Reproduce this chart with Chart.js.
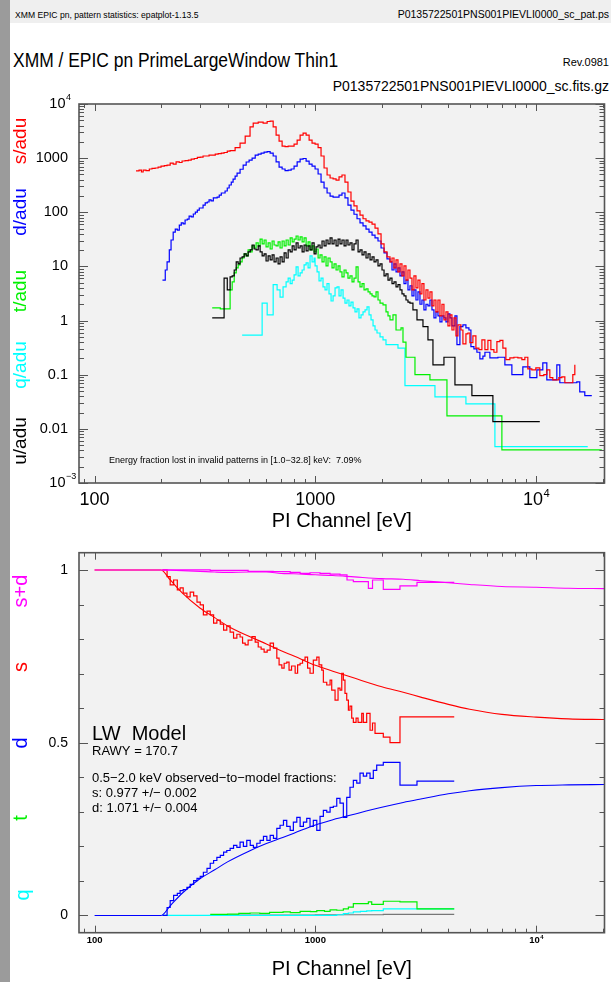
<!DOCTYPE html>
<html>
<head>
<meta charset="utf-8">
<title>epatplot</title>
<script src="https://cdn.jsdelivr.net/npm/chart.js@4.4.1/dist/chart.umd.min.js"></script>
<style>
  html, body { margin: 0; padding: 0; }
  body { width: 611px; height: 982px; position: relative; overflow: hidden; background: #fff;
         font-family: "Liberation Sans", Arial, Helvetica, sans-serif; color: #000; }
  .strip { position: absolute; left: 0; top: 0; width: 10px; height: 982px; background: #9b9b9b; }
  .band { position: absolute; left: 10px; top: 0; width: 601px; height: 23px; background: #efefef; }
  .t { position: absolute; line-height: 1; white-space: nowrap; }
  canvas { position: absolute; left: 0; top: 0; }
</style>
</head>
<body>
<div class="strip"></div>
<div class="band"></div>
<div class="t" style="left:15px; top:10.7px; font-size:8.6px;">XMM EPIC pn, pattern statistics: epatplot-1.13.5</div>
<div class="t" style="right:2px; top:9.1px; font-size:10.5px;">P0135722501PNS001PIEVLI0000_sc_pat.ps</div>
<div class="t" style="left:13px; top:48.9px; font-size:21px; transform:scaleX(0.83); transform-origin:0 0;">XMM / EPIC pn PrimeLargeWindow Thin1</div>
<div class="t" style="right:2px; top:56.7px; font-size:11px;">Rev.0981</div>
<div class="t" style="right:2px; top:79.1px; font-size:14px;">P0135722501PNS001PIEVLI0000_sc.fits.gz</div>
<canvas id="spec" width="611" height="982"></canvas>
<canvas id="frac" width="611" height="982"></canvas>
<script>
const FONT = '"Liberation Sans", Arial, Helvetica, sans-serif';

// ---- spectra per pattern type (counts / adu) vs PI channel [eV] ----
const sE = [154,159,163,166,171,177,182,188,194,200,207,213,220,227,234,242,249,257,266,274,
  283,292,301,310,320,330,341,352,363,375,386,399,411,433,456,481,506,523,551,580,
  605,624,644,664,685,707,729,753,777,801,827,853,880,908,937,966,997,1029,1061,1095,
  1130,1166,1203,1241,1280,1320,1362,1405,1450,1496,1544,1593,1644,1696,1750,1806,1863,1922,1984,2047,
  2111,2178,2224,2271,2319,2367,2417,2468,2520,2573,2627,2682,2739,2796,2855,2915,2977,3039,3103,3169,
  3236,3304,3374,3445,3517,3592,3667,3745,3823,3904,3986,4070,4156,4243,4333,4424,4564,4660,4808,4909,
  5012,5171,5336,5505,5680,5861,6047,6237,6437,6642,6852,7070,7294,7603,7930,8266,8617,8890,9170,9561,
  9968,10390,10835,11180,11535,11900,12280,12670,13070,13490,13920,14360,14660,14970];
const sAdu = [580,600,555,603,590,630,645,657,685,715,730,746,812,778,850,830,885,903,922,963,
  985,1030,1048,1095,1095,1141,1141,1190,1215,1242,1270,1352,1380,1570,1900,2560,3780,4440,4640,4440,
  4750,4840,3780,2670,2060,1670,1630,1670,1670,1820,2160,2670,2910,2670,2160,1900,1820,1570,1095,657,
  488,430,413,394,450,488,360,237,161,131,106,89,76,69.5,66,60.5,51,40,26,18.5,
  15,12.1,14.3,9.4,13.2,7.9,11.1,6.7,10.2,5.6,8.6,6.1,3.7,6.7,4.0,5.6,3.1,4.8,2.4,3.7,
  2.6,3.4,1.87,2.4,1.45,2.4,1.22,2.0,1.03,1.45,0.80,1.27,0.67,1.12,0.52,0.83,0.67,0.37,0.57,0.59,
  0.39,0.52,0.31,0.29,0.44,0.29,0.43,0.29,0.26,0.41,0.43,0.31,0.19,0.205,0.21,0.205,0.19,0.21,0.128,0.123,
  0.134,0.096,0.10,0.123,0.088,0.080,0.08,0.088,0.091,0.071,0.071,0.071,0.10,0.152];

const dE = [203,209,213,218,222,227,232,237,242,247,252,257,263,268,274,280,286,292,298,304,
  310,317,324,330,337,345,352,359,367,375,382,390,399,407,416,424,433,442,456,471,
  486,501,517,534,551,568,586,605,624,644,664,685,707,729,753,777,801,827,853,880,
  908,937,966,997,1029,1061,1095,1130,1166,1203,1241,1280,1320,1362,1405,1450,1496,1544,1593,1644,
  1696,1750,1806,1863,1922,1984,2047,2111,2178,2224,2271,2319,2367,2417,2468,2520,2573,2627,2682,2739,
  2796,2855,2915,2977,3039,3103,3169,3236,3304,3374,3445,3517,3592,3667,3745,3823,3904,3986,4070,4156,
  4288,4378,4516,4660,4808,4961,5065,5226,5392,5561,5740,5861,6173,6712,7218,7764,8706,9365,10075,10720,
  11180,12410,12800,15280,15760,16610,17870];
const dAdu = [5.6,8.6,12.1,20.2,30.8,43,49,47,58,63.5,61,72,75,85,82,93,101,110,120,120,
  136,149,155,169,162,184,184,191,208,227,227,247,281,319,361,410,467,531,624,746,
  849,922,1004,1141,1190,1242,1296,1325,1242,1095,850,685,630,590,603,630,715,850,963,985,
  880,778,715,630,510,360,281,227,199,191,191,208,227,184,136,110,92,76,63.5,56,
  49,43,38,33.6,29.5,21.9,17.8,13.8,12.1,8.6,11.1,7.9,9.4,6.7,7.9,4.8,5.6,3.7,4.4,2.85,
  3.7,2.4,3.4,2.0,2.4,1.57,2.0,1.87,2.4,1.57,1.12,1.45,1.22,0.95,1.22,1.12,0.95,1.33,1.12,0.80,
  1.22,0.36,0.77,0.83,0.73,0.67,0.33,0.30,0.26,0.196,0.22,0.26,0.205,0.21,0.152,0.10,0.14,0.088,0.123,0.166,
  0.080,0.152,0.071,0.074,0.048,0.041,0.041];

const tE = [341,371,411,420,429,438,447,456,466,476,486,496,507,517,528,539,551,562,574,586,
  598,611,624,637,650,664,678,692,707,722,737,753,769,785,801,818,835,853,871,889,
  908,927,946,966,987,1007,1029,1050,1072,1095,1118,1141,1166,1190,1215,1241,1267,1293,1320,1349,
  1377,1405,1435,1466,1496,1529,1561,1593,1627,1661,1696,1732,1769,1806,1844,1883,1922,1963,2025,2089,
  2133,2178,2247,2319,2443,2494,2573,2826,3304,3945,6996,19830];
const tAdu = [1.72,1.65,3.7,5.2,7.6,9.4,10.7,12.1,14.3,17,15.6,20.2,18.5,23.9,21.9,27.2,23.9,32,26,30.8,
  22.9,27.2,21,29.5,24.9,23.9,28.3,21.9,29.5,23.9,30.8,24.9,33.6,28.3,32,36.5,30.8,35,28.3,33.6,
  23.9,28.3,20.2,23.9,18.5,21,14.3,16.3,12.1,15,10.2,14.3,12.1,9.4,11.1,8.6,10.2,7.9,6.4,8.6,
  7.6,6.1,6.7,5.2,6.1,9.8,5.2,4.2,4.8,3.7,3.85,3.4,3.1,2.85,2.75,3.4,2.4,2.1,1.95,1.45,
  1.22,1.03,1.27,0.67,0.73,0.40,0.21,0.10,0.080,0.0173,0.0041,0.0041];

const qE = [466,574,605,644,671,692,714,737,753,769,785,801,818,835,853,871,889,908,927,946,
  966,987,997,1018,1039,1061,1083,1106,1129,1153,1178,1203,1228,1254,1280,1307,1335,1362,1391,1420,
  1450,1481,1512,1544,1576,1610,1644,1679,1714,1750,1787,1825,1863,1902,1963,2025,2089,2367,2546,3481,
  4808,6505,17130];
const qAdu = [0.54,2.1,1.27,4.6,3.7,2.7,4.2,5.2,6.1,4.8,5.6,7.0,9.8,6.7,7.6,8.6,10.7,11.6,9.4,15.6,
  12.1,14.3,10.2,7.9,5.4,6.1,4.2,3.7,4.8,3.1,2.3,2.85,4.0,4.2,2.85,3.7,2.6,2.1,2.4,1.87,
  2.2,1.72,1.45,1.65,1.12,1.27,1.45,1.57,1.79,1.27,1.03,0.80,0.67,0.59,0.50,0.44,0.36,0.31,0.063,0.039,
  0.029,0.0047,0.0047];

const uE = [341,386,399,411,420,429,438,447,456,466,476,486,496,507,517,528,539,551,562,574,
  586,598,611,624,637,650,664,678,692,707,722,737,753,769,785,801,818,835,853,871,
  889,908,927,946,966,987,1007,1029,1050,1072,1095,1118,1141,1166,1190,1215,1241,1267,1293,1320,
  1349,1377,1405,1435,1466,1496,1529,1561,1593,1627,1661,1696,1732,1769,1806,1844,1883,1922,1963,2004,
  2047,2089,2133,2178,2224,2271,2319,2367,2417,2468,2520,2573,2627,2682,2767,2886,3072,3236,3409,3823,
  4288,5117,6370,10390];
const uAdu = [1.12,6.1,3.7,6.4,6.7,8.6,12.1,11.1,14.3,15,17,15.6,18.5,20.2,24.9,21,20.2,23.9,18.5,15.6,
  17,12.6,15.6,13.2,16.3,12.1,14.3,11.1,15,12.1,17.8,14.3,20.2,18.5,23.9,20.2,27.2,21.9,23.9,18.5,
  24.9,19.3,23.9,20.2,27.2,17,22.9,24.9,21.9,29.5,23.9,30.8,26,33.6,26,30.8,23.9,32,26,30.8,
  23.9,30.8,24.9,27.2,20.2,26,30.8,18.5,20.2,16.3,18.5,14.3,17,13.2,15,12.1,13.2,10.2,11.1,8.6,
  6.7,7.3,5.6,6.1,4.8,5.2,4.2,4.6,3.7,3.1,2.85,2.4,2.2,2.1,1.57,1.03,0.77,0.44,0.152,0.21,
  0.065,0.041,0.0136,0.0136];

// ---- observed pattern fractions ----
const sFracE = [203,213,220,228,237,244,252,262,271,281,291,301,311,323,334,346,358,371,384,397,
  411,426,441,456,468,481,496,516,534,551,568,586,605,624,646,669,685,705,722,742,
  760,780,810,831,853,875,898,922,946,979,1015,1039,1069,1087,1126,1166,1186,1228,1267,1293,
  1317,1339,1362,1387,1411,1435,1461,1486,1529,1561,1593,1622,1649,1708,1769,1815,1863,2031,2178,2417,4256];
const sFrac = [1.0,0.981,0.957,0.971,0.942,0.948,0.933,0.922,0.936,0.925,0.907,0.899,0.870,0.881,0.870,0.846,0.855,0.843,0.826,0.838,
  0.820,0.803,0.814,0.806,0.788,0.783,0.797,0.807,0.791,0.777,0.771,0.762,0.768,0.788,0.774,0.745,0.725,0.716,0.730,0.733,
  0.710,0.722,0.701,0.725,0.730,0.739,0.748,0.716,0.701,0.739,0.748,0.725,0.710,0.675,0.667,0.681,0.652,0.623,0.658,0.652,
  0.701,0.681,0.643,0.623,0.594,0.606,0.571,0.559,0.571,0.559,0.559,0.585,0.559,0.585,0.536,0.557,0.527,0.516,0.500,0.575,0.575];

const dFracE = [203,213,220,228,237,244,252,262,271,281,291,301,311,323,334,346,358,371,384,397,
  411,426,441,456,472,489,507,524,543,562,582,603,624,646,669,692,717,742,769,795,
  824,853,883,914,946,979,1015,1050,1087,1126,1166,1206,1250,1293,1339,1387,1435,1486,1540,1593,
  1649,1708,1769,1830,1896,2031,2417,2886,4256];
const dFrac = [0,0.023,0.043,0.058,0.064,0.072,0.075,0.081,0.090,0.101,0.107,0.113,0.125,0.136,0.151,0.159,0.168,0.174,0.183,0.188,
  0.194,0.203,0.197,0.212,0.200,0.217,0.203,0.197,0.209,0.217,0.229,0.217,0.232,0.223,0.252,0.261,0.275,0.258,0.246,0.270,
  0.284,0.258,0.270,0.281,0.258,0.275,0.246,0.287,0.304,0.299,0.313,0.316,0.339,0.325,0.284,0.342,0.371,0.391,0.383,0.412,
  0.403,0.412,0.397,0.420,0.435,0.443,0.377,0.389,0.389];

const tFracE = [334,400,450,506,560,620,714,770,853,950,1015,1100,1166,1250,1339,1411,1486,1738,1800,2031,2417,2886,4256];
const tFrac = [0.003,0.004,0.006,0.007,0.006,0.009,0.010,0.008,0.012,0.011,0.014,0.012,0.016,0.015,0.019,0.024,0.034,0.039,0.032,0.041,0.039,0.019,0.019];

const qFracE = [203,1250,1339,1411,1486,1600,1708,1800,2031,4256];
const qFrac = [0,0.002,0.005,0.007,0.010,0.012,0.013,0.014,0.019,0.019];

const uFracE = [386,1000,2031,4256];
const uFrac = [0.001,0.002,0.003,0.003];

const sdFracE = [203,334,496,644,769,853,946,1050,1166,1293,1391,1486,1738,1815,2031,2417,2886,4256];
const sdFrac = [1.0,0.999,0.996,0.995,0.993,0.990,0.992,0.990,0.988,0.986,0.971,0.966,0.947,0.971,0.944,0.954,0.964,0.964];

// ---- LW model fractions ----
const modelE = [100,200,220,250,300,350,400,500,600,700,800,1000,1200,1500,2000,2500,3000,4000,5000,7000,10000,14000,20400];
const sModel = [1.0,1.0,0.971,0.933,0.890,0.862,0.838,0.808,0.786,0.766,0.751,0.724,0.707,0.687,0.662,0.646,0.632,0.611,0.597,0.582,0.574,0.569,0.567];
const dModel = [0,0,0.028,0.065,0.106,0.132,0.155,0.186,0.208,0.224,0.238,0.262,0.277,0.293,0.313,0.327,0.337,0.352,0.361,0.370,0.376,0.378,0.379];
const sdModel = [1.0,1.0,0.999,0.998,0.996,0.994,0.993,0.994,0.994,0.990,0.989,0.986,0.984,0.980,0.975,0.973,0.969,0.963,0.958,0.952,0.950,0.947,0.946];

// ---- axis ticks ----
const xTickVals = [100, 1000, 10000];
const xTickText = ['100', '1000', '10^4'];
const specTickVals = [1e-3, 0.01, 0.1, 1, 10, 100, 1000, 1e4];
const specTickText = ['10^\u22123', '0.01', '0.1', '1', '10', '100', '1000', '10^4'];
const fracTickVals = [0, 0.5, 1];
const fracTickText = ['0', '0.5', '1'];

const RED = '#ff0000', BLUE = '#0000ff', GREEN = '#00f000', CYAN = '#00ffff', MAGENTA = '#ff00ff', BLACK = '#000000';

function pts(xs, ys) {
  return xs.map((x, i) => ({ x: x, y: ys[i] }));
}

function steps(xs, ys, color) {
  return { data: pts(xs, ys), borderColor: color, borderWidth: 1.2, stepped: true, pointRadius: 0, fill: false };
}

function smooth(xs, ys, color) {
  return { data: pts(xs, ys), borderColor: color, borderWidth: 1.1, cubicInterpolationMode: 'monotone', pointRadius: 0, fill: false };
}

// decade ticks with the 2..9 minors, [value, isMajor]
function logTicks(min, max) {
  const out = [];
  for (let e = Math.floor(Math.log10(min)); e <= Math.ceil(Math.log10(max)); e++) {
    for (let m = 1; m < 10; m++) {
      const v = m * Math.pow(10, e);
      if (v >= min * 0.999 && v <= max * 1.001) out.push([v, m === 1]);
    }
  }
  return out;
}

// plain label, or "10^n" with a raised exponent
function tickLabel(ctx, label, x, y, size, align, weight) {
  const w = weight ? weight + ' ' : '';
  if (label.indexOf('^') < 0) {
    ctx.font = w + size + 'px ' + FONT;
    ctx.textAlign = align;
    ctx.fillText(label, x, y);
    return;
  }
  const parts = label.split('^');
  const big = w + size + 'px ' + FONT;
  const small = w + (size * 0.62).toFixed(1) + 'px ' + FONT;
  ctx.font = big;
  const w1 = ctx.measureText(parts[0]).width;
  ctx.font = small;
  const w2 = ctx.measureText(parts[1]).width;
  let x0 = x - w1;
  if (align === 'center') x0 = x - (w1 + w2) / 2;
  ctx.textAlign = 'left';
  ctx.font = big;
  ctx.fillText(parts[0], x0, y);
  ctx.font = small;
  ctx.fillText(parts[1], x0 + w1 + 0.5, y - size * 0.42);
}

function vText(ctx, text, x, y, color, size) {
  ctx.save();
  ctx.translate(x, y);
  ctx.rotate(-Math.PI / 2);
  ctx.font = size + 'px ' + FONT;
  ctx.fillStyle = color;
  ctx.textAlign = 'center';
  ctx.textBaseline = 'middle';
  ctx.fillText(text, 0, 0);
  ctx.restore();
}

// grey plot box, inward ticks on all four sides, then the chart's own labels
function framePlugin(name, yTicks, drawText) {
  return {
    id: 'frame_' + name,
    beforeDatasetsDraw(chart) {
      const a = chart.chartArea, ctx = chart.ctx;
      ctx.save();
      ctx.fillStyle = '#f2f2f2';
      ctx.fillRect(a.left, a.top, a.right - a.left, a.bottom - a.top);
      ctx.restore();
    },
    afterDatasetsDraw(chart) {
      const a = chart.chartArea, ctx = chart.ctx;
      const xs = chart.scales.x, ys = chart.scales.y;
      ctx.save();
      ctx.strokeStyle = '#555';
      ctx.lineWidth = 1;
      ctx.beginPath();
      logTicks(xs.min, xs.max).forEach(t => {
        const px = Math.round(xs.getPixelForValue(t[0])) + 0.5;
        const len = t[1] ? 7 : 4;
        ctx.moveTo(px, a.bottom); ctx.lineTo(px, a.bottom - len);
        ctx.moveTo(px, a.top); ctx.lineTo(px, a.top + len);
      });
      yTicks(ys).forEach(t => {
        const py = Math.round(ys.getPixelForValue(t[0])) + 0.5;
        const len = t[1] ? 9 : 5;
        ctx.moveTo(a.left, py); ctx.lineTo(a.left + len, py);
        ctx.moveTo(a.right, py); ctx.lineTo(a.right - len, py);
      });
      ctx.stroke();
      ctx.lineWidth = 1.6;
      ctx.strokeRect(a.left, a.top, a.right - a.left, a.bottom - a.top);
      ctx.fillStyle = '#000';
      drawText(ctx, a, xs, ys);
      ctx.restore();
    }
  };
}

Chart.defaults.font.family = FONT;

// ---------- upper panel: spectra ----------
new Chart(document.getElementById('spec'), {
  type: 'line',
  data: {
    datasets: [
      steps(sE, sAdu, RED),
      steps(dE, dAdu, BLUE),
      steps(uE, uAdu, BLACK),
      steps(tE, tAdu, GREEN),
      steps(qE, qAdu, CYAN)
    ]
  },
  options: {
    responsive: false,
    animation: false,
    devicePixelRatio: 1,
    layout: { padding: { left: 79, right: 6.5, top: 104, bottom: 499 } },
    plugins: { legend: { display: false }, tooltip: { enabled: false } },
    scales: {
      x: { type: 'logarithmic', min: 85, max: 20400, display: false },
      y: { type: 'logarithmic', min: 0.001, max: 10000, display: false }
    }
  },
  plugins: [framePlugin('spec', ys => logTicks(ys.min, ys.max), (ctx, a, xs, ys) => {
    ctx.textBaseline = 'middle';
    specTickVals.forEach((v, i) => {
      const lab = specTickText[i];
      tickLabel(ctx, lab, lab.indexOf('^') < 0 ? 68 : 65.5, ys.getPixelForValue(v), 14.5, 'right');
    });
    ctx.textBaseline = 'alphabetic';
    xTickVals.forEach((v, i) => tickLabel(ctx, xTickText[i], xs.getPixelForValue(v), 505, 18, 'center'));
    ctx.font = '20px ' + FONT;
    ctx.textAlign = 'center';
    ctx.fillText('PI Channel [eV]', (a.left + a.right) / 2, 527);
    ctx.font = '9px ' + FONT;
    ctx.textAlign = 'left';
    ctx.fillText('Energy fraction lost in invalid patterns in [1.0\u221232.8] keV:  7.09%', 109, 463);
    vText(ctx, 's/adu', 21, 141, RED, 19);
    vText(ctx, 'd/adu', 21, 212, BLUE, 19);
    vText(ctx, 't/adu', 21, 291, GREEN, 19);
    vText(ctx, 'q/adu', 21, 365, CYAN, 19);
    vText(ctx, 'u/adu', 21, 441, BLACK, 19);
  })]
});

// ---------- lower panel: pattern fractions with LW model ----------
new Chart(document.getElementById('frac'), {
  type: 'line',
  data: {
    datasets: [
      steps(sdFracE, sdFrac, MAGENTA),
      smooth(modelE, sdModel, MAGENTA),
      steps(sFracE, sFrac, RED),
      smooth(modelE, sModel, RED),
      steps(dFracE, dFrac, BLUE),
      smooth(modelE, dModel, BLUE),
      steps(tFracE, tFrac, GREEN),
      steps(qFracE, qFrac, CYAN),
      steps(uFracE, uFrac, '#777777')
    ]
  },
  options: {
    responsive: false,
    animation: false,
    devicePixelRatio: 1,
    layout: { padding: { left: 79, right: 6.5, top: 552.7, bottom: 49.3 } },
    plugins: { legend: { display: false }, tooltip: { enabled: false } },
    scales: {
      x: { type: 'logarithmic', min: 85, max: 20400, display: false },
      y: { type: 'linear', min: -0.05, max: 1.05, display: false }
    }
  },
  plugins: [framePlugin('frac', () => {
    const out = [];
    for (let i = 0; i <= 10; i++) out.push([i / 10, i % 5 === 0]);
    return out;
  }, (ctx, a, xs, ys) => {
    ctx.textBaseline = 'middle';
    fracTickVals.forEach((v, i) => tickLabel(ctx, fracTickText[i], 68, ys.getPixelForValue(v), 14, 'right'));
    ctx.textBaseline = 'alphabetic';
    xTickVals.forEach((v, i) => tickLabel(ctx, xTickText[i], xs.getPixelForValue(v), 943, 9.5, 'center', 'bold'));
    ctx.font = '20px ' + FONT;
    ctx.textAlign = 'center';
    ctx.fillText('PI Channel [eV]', (a.left + a.right) / 2, 975);
    ctx.textAlign = 'left';
    ctx.font = '20px ' + FONT;
    ctx.fillText('LW  Model', 92, 740);
    ctx.font = '13px ' + FONT;
    ctx.fillText('RAWY = 170.7', 92, 755);
    ctx.fillText('0.5\u22122.0 keV observed\u2212to\u2212model fractions:', 92, 782);
    ctx.fillText('s: 0.977 +/\u2212 0.002', 92, 797);
    ctx.fillText('d: 1.071 +/\u2212 0.004', 92, 812);
    vText(ctx, 's+d', 21, 591, MAGENTA, 20);
    vText(ctx, 's', 21, 667, RED, 20);
    vText(ctx, 'd', 21, 743, BLUE, 20);
    vText(ctx, 't', 21, 818, GREEN, 20);
    vText(ctx, 'q', 23, 895, CYAN, 20);
  })]
});
</script>
</body>
</html>
